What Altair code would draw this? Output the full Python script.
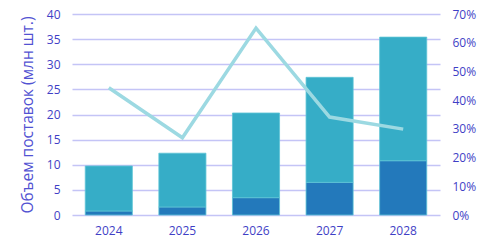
import altair as alt
import pandas as pd

years = ["2024", "2025", "2026", "2027", "2028"]
dark_vals = [0.8, 1.6, 3.45, 6.5, 10.8]
light_vals = [8.95, 10.7, 16.85, 20.9, 24.6]
pct_vals = [0.443, 0.269, 0.651, 0.341, 0.299]

bars = pd.DataFrame({
    "year": years * 2,
    "series": ["a"] * 5 + ["b"] * 5,
    "order": [0] * 5 + [1] * 5,
    "value": dark_vals + light_vals,
})
line = pd.DataFrame({"year": years, "pct": pct_vals})

FONT = "Open Sans"
TXT = "#3f3fc6"
GRID = "#c4c4f6"

x = alt.X("year:N", sort=years, title=None,
          scale=alt.Scale(paddingInner=0.36, paddingOuter=0.18),
          axis=alt.Axis(labelAngle=0, labelFont=FONT, labelFontSize=12, labelColor=TXT,
                        domain=False, ticks=False, labelPadding=10))

bar = alt.Chart(bars).mark_bar(strokeWidth=1, stroke="#5ec4d6", strokeOpacity=0.8).encode(
    x=x,
    y=alt.Y("value:Q", stack="zero", title="Объем поставок (млн шт.)",
            scale=alt.Scale(domain=[0, 40], nice=False),
            axis=alt.Axis(values=list(range(0, 41, 5)), grid=True, gridColor=GRID, gridWidth=1.5,
                          domain=False, ticks=False, labelFont=FONT, labelFontSize=12,
                          labelColor=TXT, labelPadding=12, titleFont=FONT, titleFontSize=15.5,
                          titleFontWeight="normal", titleColor="#5252d2", titlePadding=11)),
    color=alt.Color("series:N", scale=alt.Scale(domain=["a", "b"], range=["#2379bb", "#36adc7"]),
                    legend=None),
    order=alt.Order("order:Q"),
)

ln = alt.Chart(line).mark_line(color="#9cd9e2", strokeWidth=3.5).encode(
    x=alt.X("year:N", sort=years),
    y=alt.Y("pct:Q", title=None, scale=alt.Scale(domain=[0, 0.7], nice=False),
            axis=alt.Axis(orient="right", format=".0%", values=[i / 10 for i in range(8)],
                          grid=False, domain=False, ticks=False, labelFont=FONT,
                          labelFontSize=12, labelColor=TXT, labelPadding=12)),
)

chart = alt.layer(bar, ln).resolve_scale(y="independent").properties(
    width=368, height=201,
    autosize=alt.AutoSizeParams(type="none"),
    padding={"left": 72, "top": 14, "right": 54, "bottom": 35},
).configure_view(stroke=None)

chart.save("out.html", embed_options={"renderer": "svg", "actions": False})
